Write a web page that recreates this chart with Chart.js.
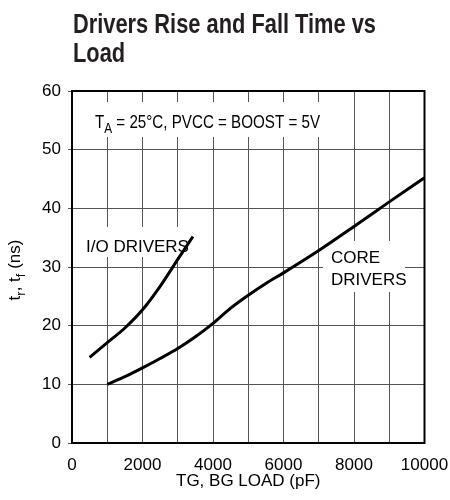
<!DOCTYPE html>
<html>
<head>
<meta charset="utf-8">
<script src="https://cdn.jsdelivr.net/npm/chart.js@4/dist/chart.umd.min.js"></script>
<style>
  html, body { margin: 0; padding: 0; background: #fff; }
  #wrap { width: 450px; height: 500px; position: relative; }
</style>
</head>
<body>
<div id="wrap"><canvas id="c" width="450" height="500"></canvas></div>
<script>
// ---- data ----
const ioLoad   = [500, 1000, 1500, 2000, 2500, 3000, 3430];
const ioTime   = [14.6, 17.1, 19.6, 22.7, 26.7, 31.3, 35.2];
const coreLoad = [1000, 1500, 2000, 2500, 3000, 3500, 4000, 4500, 5000, 5500, 6000, 7000, 8000, 9000, 10000];
const coreTime = [10, 11.3, 12.8, 14.4, 16.1, 18.1, 20.4, 23.0, 25.2, 27.2, 29.0, 32.8, 36.9, 41.1, 45.2];
const xTickLabels = ['0', '2000', '4000', '6000', '8000', '10000'];
const yTickLabels = ['0', '10', '20', '30', '40', '50', '60'];
const titleLines = ['Drivers Rise and Fall Time vs', 'Load'];
const xAxisTitle = 'TG, BG LOAD (pF)';

const FONT = "'Liberation Sans', Arial, Helvetica, sans-serif";

function toPts(xs, ys) { return xs.map((x, i) => ({ x: x, y: ys[i] })); }

// draws text runs with optional subscripts; returns total width
function drawRuns(ctx, runs, x, y, size, measureOnly) {
  let cx = x;
  runs.forEach(r => {
    const s = r.sub ? Math.round(size * 0.75) : size;
    ctx.font = s + 'px ' + FONT;
    if (!measureOnly) ctx.fillText(r.t, cx, y + (r.sub ? size * 0.28 : 0));
    cx += ctx.measureText(r.t).width;
  });
  return cx - x;
}

// text squeezed horizontally (condensed look)
function fillCondensed(ctx, text, x, y, sx) {
  ctx.save();
  ctx.translate(x, y);
  ctx.scale(sx, 1);
  ctx.fillText(text, 0, 0);
  ctx.restore();
}

const annotations = {
  id: 'annotations',
  beforeDatasetsDraw(chart) {
    const ctx = chart.ctx;
    ctx.save();
    ctx.fillStyle = '#fff';
    // white boxes that interrupt the grid behind labels
    ctx.fillRect(88, 102, 236, 35);
    ctx.fillRect(82, 227, 110, 30);
    ctx.fillRect(323, 241, 82, 51);
    ctx.fillStyle = '#000';
    ctx.textBaseline = 'alphabetic';
    ctx.textAlign = 'left';
    const runsTA = [{t: 'T'}, {t: 'A', sub: true}, {t: ' = 25\u00B0C, PVCC = BOOST = 5V'}];
    const wTA = drawRuns(ctx, runsTA, 0, 0, 18, true);
    ctx.save();
    ctx.translate(95, 128);
    ctx.scale(225 / wTA, 1);
    drawRuns(ctx, runsTA, 0, 0, 18, false);
    ctx.restore();
    ctx.font = '17px ' + FONT;
    ctx.fillText('I/O DRIVERS', 86, 251.5);
    ctx.fillText('CORE', 331, 263);
    ctx.fillText('DRIVERS', 331, 284.5);
    ctx.restore();
  },
  afterDraw(chart) {
    const ctx = chart.ctx;
    const a = chart.chartArea;
    ctx.save();
    ctx.strokeStyle = '#000';
    ctx.lineWidth = 2;
    ctx.strokeRect(a.left, a.top, a.right - a.left, a.bottom - a.top);
    // chart title (bold, condensed)
    ctx.fillStyle = '#231f20';
    ctx.textBaseline = 'alphabetic';
    ctx.textAlign = 'left';
    ctx.font = 'bold 27px ' + FONT;
    const tw = ctx.measureText(titleLines[0]).width;
    const sx = 303 / tw;
    fillCondensed(ctx, titleLines[0], 73, 33, sx);
    fillCondensed(ctx, titleLines[1], 73, 62, sx);
    // rotated y-axis title with subscripts
    const runs = [{t: 't'}, {t: 'r', sub: true}, {t: ', t'}, {t: 'f', sub: true}, {t: ' (ns)'}];
    ctx.fillStyle = '#000';
    const w = drawRuns(ctx, runs, 0, 0, 17, true);
    ctx.translate(20, (a.top + a.bottom) / 2 + 3);
    ctx.rotate(-Math.PI / 2);
    drawRuns(ctx, runs, -w / 2, 0, 17, false);
    ctx.restore();
  }
};

const chart = new Chart(document.getElementById('c'), {
  type: 'scatter',
  data: {
    datasets: [
      { label: 'I/O DRIVERS', data: toPts(ioLoad, ioTime), showLine: true, borderColor: '#000', borderWidth: 3,
        pointRadius: 0, cubicInterpolationMode: 'monotone', fill: false },
      { label: 'CORE DRIVERS', data: toPts(coreLoad, coreTime), showLine: true, borderColor: '#000', borderWidth: 3,
        pointRadius: 0, cubicInterpolationMode: 'monotone', fill: false }
    ]
  },
  options: {
    responsive: false,
    animation: false,
    devicePixelRatio: 1,
    layout: { padding: { left: 0, right: 25.5, top: 91, bottom: 0 } },
    plugins: {
      legend: { display: false },
      tooltip: { enabled: false },
      title: { display: false }
    },
    scales: {
      x: {
        type: 'linear',
        min: 0, max: 10000,
        grid: { color: '#555', lineWidth: 1, drawTicks: false },
        border: { color: '#000', width: 2 },
        ticks: {
          stepSize: 1000, autoSkip: false, maxRotation: 0, padding: 12,
          color: '#000', font: { family: FONT, size: 17 },
          callback: (v) => { const i = xTickLabels.indexOf(String(v)); return i >= 0 ? xTickLabels[i] : ''; }
        },
        title: { display: true, text: xAxisTitle, color: '#000', font: { family: FONT, size: 17 }, padding: { top: 0, bottom: 8 } },
        afterFit: (s) => { s.height = 57; s.paddingLeft = 0; s.paddingRight = 0; }
      },
      y: {
        type: 'linear',
        min: 0, max: 60,
        grid: { color: '#555', lineWidth: 1, tickLength: 4 },
        border: { color: '#000', width: 2 },
        ticks: {
          stepSize: 10, padding: 7, color: '#000', font: { family: FONT, size: 17 },
          callback: (v) => { const i = yTickLabels.indexOf(String(v)); return i >= 0 ? yTickLabels[i] : ''; }
        },
        afterFit: (s) => { s.width = 72; s.paddingTop = 0; s.paddingBottom = 0; }
      }
    }
  },
  plugins: [annotations]
});
</script>
</body>
</html>
